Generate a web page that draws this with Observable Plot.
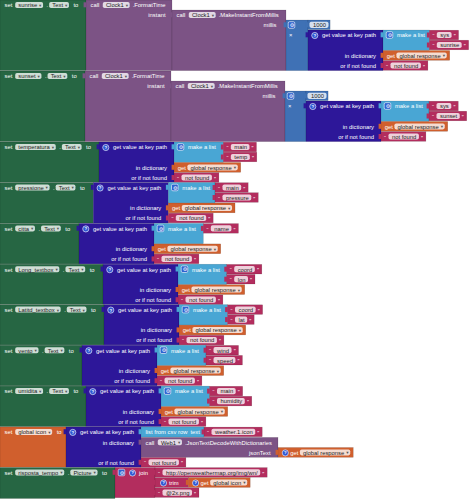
<!DOCTYPE html>
<html><head><meta charset="utf-8">
<script src="https://cdn.jsdelivr.net/npm/d3@7"></script>
<script src="https://cdn.jsdelivr.net/npm/@observablehq/plot@0.6"></script>
<style>html,body{margin:0;padding:0;background:#fff}svg{display:block}</style>
</head><body>
<script>
// ---------- data ----------
const kinds = ["set","component","math","dict","list","text","variable"];
const kindColors = ["#266643","#7c5385","#3f71b5","#2d1799","#49a6d4","#b32d5e","#d05f2d"];

const timeTargets = ["sunrise","sunset"];
const timeKeys = [["sys","sunrise"],["sys","sunset"]];
const timeTops = [0, 71];
const timeSetEnds = [86, 85];
const timeCallEnds = [172, 171];
const timeMillisEnds = [286, 285];
const timeMulEnds = [308, 306];
const timeListEnds = [429.3, 429];
const multiplier = "1000";

const fieldTargets = ["temperatura","pressione","citta","Long_textbox","Latitd_textbox","vento","umidita"];
const fieldKeys = [["main","temp"],["main","pressure"],["name"],["coord","lon"],["coord","lat"],["wind","speed"],["main","humidity"]];
const fieldTops = [142, 182.5, 223.4, 264.2, 304.6, 345.2, 386.1];
const fieldSetEnds = [99, 93.3, 79, 103, 104, 82, 86];
const fieldListEnds = [223.3, 215, 203.3, 226.7, 227.5, 206, 209.5];

const iconTop = 426.9, iconSetEnd = 66, iconDictEnd = 141, iconCsvEnd = 204, iconCallEnd = 278;
const pictureTop = 467.5, pictureSetEnd = 115, joinEnd = 155, trimEnd = 188.3;
const notFound = "not found";
const responseVar = "global response";
const iconVar = "global icon";
const iconPath = "weather.1.icon";
const urlParts = ["http://openweathermap.org/img/wn/", "@2x.png"];

// ---------- layout helpers ----------
const FS = 5.85;
const FONT = "Liberation Sans";
const ctx = document.createElement("canvas").getContext("2d");
ctx.font = `58.5px "${FONT}"`;
const tw = s => ctx.measureText(s).width / 10;

const R = [], TABS = [], P = [], TL = [], TR = [], TP = [], ARW = [], HELP = [], GEAR = [];
function block(kind,x1,x2,y1,y2,tab=true){
  R.push({kind,x1,x2,y1,y2});
  if (tab) TABS.push({kind,x1:x1-2.4,x2:x1+0.3,y1:y1+2.3,y2:y1+7.3});
}
function label(x,y,text){TL.push({x,y,text}); return x+tw(text);}
function labelR(x,y,text){TR.push({x,y,text});}
function drop(x,y,text){const w=tw(text)+9; P.push({x1:x,x2:x+w,y1:y-3,y2:y+3}); TP.push({x:x+2.6,y,text}); ARW.push({x:x+w-3.3,y}); return x+w;}
function field(x,y,text){const w=tw(text)+6; P.push({x1:x,x2:x+w,y1:y-3.1,y2:y+3.1}); TP.push({x:x+3,y,text}); return x+w;}
function help(x,y){HELP.push({x,y});}
function gear(x,y){GEAR.push({x,y,x1:x-3.3,x2:x+3.3,y1:y-3.3,y2:y+3.3});}
function str(x1,y1,text){
  const y=y1+4.8;
  const pe = x1+7.5+tw(text)+6;
  block("text",x1,pe+7,y1,y1+9.6);
  TL.push({x:x1+2.6,y:y+0.8,text:"\u201C"});
  field(x1+7.5,y,text);
  TL.push({x:pe+1.6,y:y+0.8,text:"\u201D"});
  return pe+7;
}
function getBlock(x1,y1,name,withHelp=false){
  const y=y1+4.9;
  let x=x1+3.3;
  const pe = (withHelp ? x+8.5 : x) + tw("get") + 2 + tw(name) + 9;
  block("variable",x1,pe+3,y1,y1+9.8);
  if (withHelp){help(x+3.5,y); x+=8.5;}
  x = label(x,y,"get")+2;
  drop(x,y,name);
  return pe+3;
}
function setHeader(y,target,prop){
  let x = label(4,y,"set")+3.4;
  x = drop(x,y,target)+3;
  if (prop){ x = label(x,y,".")+1.5; x = drop(x,y,prop)+4; } else x += 1;
  label(x,y,"to");
}
function callHeader(x,y,comp,method){
  x = label(x,y,"call")+4;
  x = drop(x,y,comp)+2.5;
  label(x,y,method);
}
function keyPath(A,y0,y1,keys,L){
  const B=A+75;
  block("dict",A,B,y0,y1);
  help(A+6.3,y0+5); label(A+13.6,y0+5,"get value at key path");
  labelR(B-7.5,y0+25.3,"in dictionary"); labelR(B-7.5,y0+35.4,"or if not found");
  block("list",B,L,y0,y0+20.3);
  gear(B+6.5,y0+5); label(B+13.5,y0+5,"make a list");
  keys.forEach((k,j)=>str(L,y0+10*j+0.2,k));
  getBlock(B,y0+20.5,responseVar);
  str(B,y0+30.7,notFound);
}

// ---------- build the scene ----------
timeTargets.forEach((t,i)=>{
  const top=timeTops[i], S=timeSetEnds[i], C=timeCallEnds[i], M=timeMillisEnds[i], Mu=timeMulEnds[i];
  const bot = (i+1<timeTops.length ? timeTops[i+1] : fieldTops[0]) - 0.4;
  block("set",0,S,top,bot,false);
  setHeader(top+5,t,"Text");
  block("component",S,C,top,bot);
  callHeader(S+4,top+5,"Clock1",".FormatTime");
  labelR(C-7,top+15,"instant");
  block("component",C,M,top+10,bot);
  callHeader(C+4,top+15,"Clock1",".MakeInstantFromMillis");
  labelR(M-10,top+25,"millis");
  block("math",M,Mu,top+20,bot);
  gear(M+5.5,top+25);
  label(M+2.6,top+35,"\u00D7");
  const ne = Mu+1.5+tw(multiplier)+6+1.6;
  block("math",Mu,ne,top+20,top+29.6);
  field(Mu+1.5,top+24.8,multiplier);
  keyPath(Mu,top+30,bot,timeKeys[i],timeListEnds[i]);
});

fieldTargets.forEach((t,i)=>{
  const top=fieldTops[i], S=fieldSetEnds[i];
  const bot=(i+1<fieldTops.length ? fieldTops[i+1] : iconTop)-0.3;
  block("set",0,S,top,bot,false);
  setHeader(top+5,t,"Text");
  keyPath(S,top,bot,fieldKeys[i],fieldListEnds[i]);
});

// set global icon
{
  const top=iconTop, bot=pictureTop-0.3;
  block("variable",0,iconSetEnd,top,bot,false);
  setHeader(top+5,iconVar,null);
  block("dict",iconSetEnd,iconDictEnd,top,bot);
  help(iconSetEnd+6.3,top+5); label(iconSetEnd+13.6,top+5,"get value at key path");
  labelR(iconDictEnd-7.5,top+15.4,"in dictionary");
  labelR(iconDictEnd-7.5,top+35.4,"or if not found");
  block("list",iconDictEnd,iconCsvEnd,top,top+10.2);
  label(iconDictEnd+4,top+5,"list from csv row");
  label(iconCsvEnd-14,top+5,"text");
  str(iconCsvEnd,top+0.2,iconPath);
  block("component",iconDictEnd,iconCallEnd,top+10.5,top+30.4);
  callHeader(iconDictEnd+4,top+15.4,"Web1",".JsonTextDecodeWithDictionaries");
  labelR(iconCallEnd-8,top+25.5,"jsonText");
  getBlock(iconCallEnd,top+20.6,responseVar,true);
  str(iconDictEnd,top+30.6,notFound);
}

// set risposta_tempo.Picture
{
  const top=pictureTop;
  block("set",0,pictureSetEnd,top,498.5,false);
  setHeader(top+5,"risposta_tempo","Picture");
  block("text",pictureSetEnd,joinEnd,top,top+30.2);
  gear(pictureSetEnd+6.5,top+5); help(pictureSetEnd+17,top+5);
  label(pictureSetEnd+23.5,top+5,"join");
  str(joinEnd,top+0.1,urlParts[0]);
  block("text",joinEnd,trimEnd,top+10.1,top+19.9);
  help(joinEnd+8,top+15); label(joinEnd+13.5,top+15,"trim");
  getBlock(trimEnd,top+10.1,iconVar,true);
  str(joinEnd,top+20.3,urlParts[1]);
}

// ---------- draw with Plot ----------
const chart = Plot.plot({
  width: 470, height: 500, margin: 0,
  x: {domain:[0,470], range:[0,470], axis:null},
  y: {domain:[0,500], range:[0,500], axis:null},
  color: {domain: kinds, range: kindColors},
  style: {background:"#fff", fontFamily: FONT},
  marks: [
    Plot.rect(R, {x1:"x1",x2:"x2",y1:"y1",y2:"y2",fill:"kind",stroke:"#000",strokeOpacity:0.22,strokeWidth:0.5}),
    Plot.rect(TABS, {x1:"x1",x2:"x2",y1:"y1",y2:"y2",fill:"kind"}),
    Plot.rect(P, {x1:"x1",x2:"x2",y1:"y1",y2:"y2",fill:"#fff",fillOpacity:0.78,rx:1.8}),
    Plot.rect(GEAR, {x1:"x1",x2:"x2",y1:"y1",y2:"y2",fill:"#2f62cf",stroke:"#fff",strokeWidth:0.6,rx:1.4}),
    Plot.text(GEAR, {x:"x",y:"y",text:()=>"\u2699",fill:"#fff",fontSize:5.2,fontFamily:"DejaVu Sans"}),
    Plot.dot(HELP, {x:"x",y:"y",r:3.1,fill:"#3056d3",stroke:"#fff",strokeWidth:0.6}),
    Plot.text(HELP, {x:"x",y:"y",text:()=>"?",fill:"#fff",fontSize:4.4,fontWeight:"bold",fontFamily:FONT}),
    Plot.text(TL, {x:"x",y:"y",text:"text",fill:"#fff",fontSize:FS,textAnchor:"start",fontFamily:FONT}),
    Plot.text(TR, {x:"x",y:"y",text:"text",fill:"#fff",fontSize:FS,textAnchor:"end",fontFamily:FONT}),
    Plot.text(TP, {x:"x",y:"y",text:"text",fill:"#222",fontSize:FS,textAnchor:"start",fontFamily:FONT}),
    Plot.text(ARW, {x:"x",y:"y",text:()=>"\u25BE",fill:"#555",fontSize:4.6,fontFamily:"DejaVu Sans"})
  ]
});
document.body.appendChild(chart);
</script>
</body></html>
